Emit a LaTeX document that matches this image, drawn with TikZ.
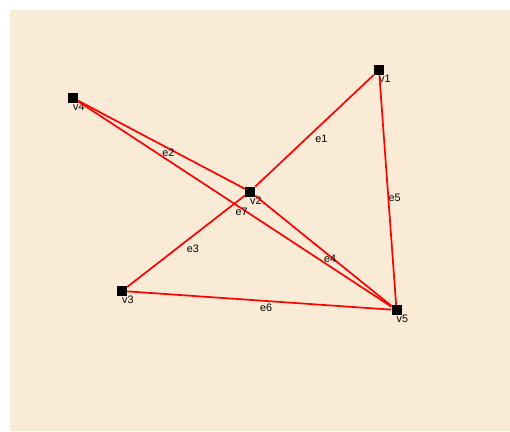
\documentclass[tikz,border=0pt]{standalone}
\usepackage{fontspec}
\setmainfont{Liberation Sans}
\definecolor{paper}{HTML}{FAEBD7}
\begin{document}
\begin{tikzpicture}[
			x=1pt, y=-1pt,
			txt/.style={font=\fontsize{10.8}{12}\selectfont},
			vertex/.style={
				fill=black,
				minimum size=10pt,
				inner sep=0pt,
				label={[txt,anchor=north west,inner sep=0pt]south:#1}
			},
			edge/.style={draw=red, line width=1.7pt},
			elabel/.style={txt, anchor=north west, inner xsep=0pt, inner ysep=3pt}
			]
			
			\useasboundingbox (0,0) rectangle (510,431);
			\fill[paper] (10,10) rectangle (510,431);
			
			\node[vertex=v1] (v1) at (379,70) {};
			\node[vertex=v2] (v2) at (250,191.5) {};
			\node[vertex=v3] (v3) at (122,291) {};
			\node[vertex=v4] (v4) at (73,98) {};
			\node[vertex=v5] (v5) at (396.5,310) {};
			
			\draw[edge] (v2) -- node[elabel] {e1} (v1);
			\draw[edge] (v4) -- node[elabel] {e2} (v2);
			\draw[edge] (v3) -- node[elabel] {e3} (v2);
			\draw[edge] (v2) -- node[elabel] {e4} (v5);
			\draw[edge] (v1) -- node[elabel] {e5} (v5);
			\draw[edge] (v3) -- node[elabel] {e6} (v5);
			\draw[edge] (v4) -- node[elabel] {e7} (v5);
			
		\end{tikzpicture}
\end{document}
